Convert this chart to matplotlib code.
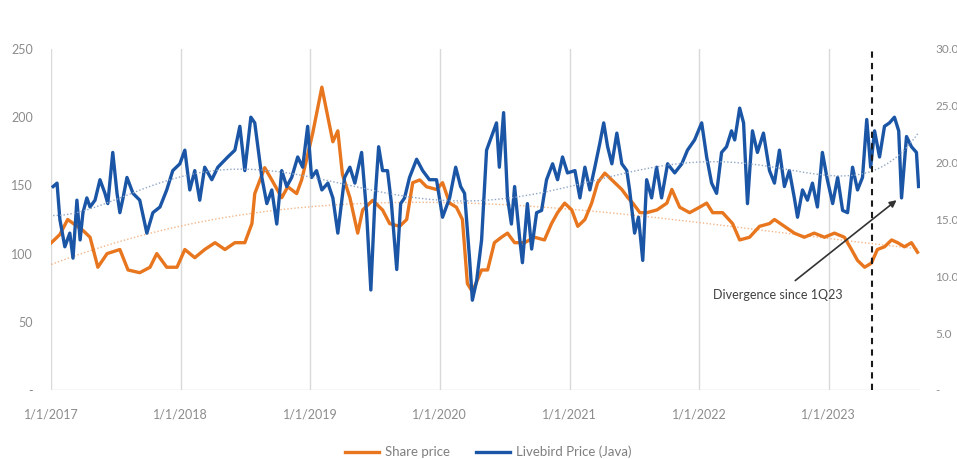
import matplotlib
matplotlib.use("Agg")
import matplotlib.pyplot as plt
import numpy as np
import pandas as pd

plt.rcParams["font.family"] = ["Lato", "DejaVu Sans"]

# Share price (left axis)
share_dates = [
    "2017-01-02", "2017-01-26", "2017-02-17", "2017-04-01", "2017-04-21", "2017-05-13",
    "2017-06-08", "2017-07-14", "2017-08-06", "2017-09-08", "2017-10-07", "2017-10-26",
    "2017-11-23", "2017-12-22", "2018-01-13", "2018-02-10", "2018-03-10", "2018-04-08",
    "2018-05-06", "2018-06-03", "2018-07-01", "2018-07-21", "2018-07-29", "2018-08-26",
    "2018-09-15", "2018-10-13", "2018-10-30", "2018-11-24", "2018-12-08", "2018-12-22",
    "2019-01-08", "2019-02-03", "2019-02-20", "2019-03-06", "2019-03-20", "2019-04-02",
    "2019-04-23", "2019-05-15", "2019-05-29", "2019-06-26", "2019-07-24", "2019-08-13",
    "2019-09-10", "2019-09-30", "2019-10-17", "2019-11-06", "2019-11-25", "2019-12-23",
    "2020-01-09", "2020-01-29", "2020-02-17", "2020-03-05", "2020-03-19", "2020-04-02",
    "2020-04-28", "2020-05-15", "2020-06-03", "2020-06-23", "2020-07-10", "2020-07-30",
    "2020-08-27", "2020-09-24", "2020-10-22", "2020-11-11", "2020-11-28", "2020-12-18",
    "2021-01-07", "2021-01-24", "2021-02-13", "2021-03-04", "2021-03-21", "2021-04-10",
    "2021-04-30", "2021-05-28", "2021-06-14", "2021-06-28", "2021-07-18", "2021-08-06",
    "2021-09-04", "2021-10-02", "2021-10-16", "2021-11-07", "2021-12-05", "2022-01-02",
    "2022-01-22", "2022-02-08", "2022-03-08", "2022-04-05", "2022-04-25", "2022-05-23",
    "2022-06-20", "2022-07-18", "2022-08-01", "2022-08-29", "2022-09-26", "2022-10-24",
    "2022-11-21", "2022-12-20", "2023-01-17", "2023-02-14", "2023-03-06", "2023-03-23",
    "2023-04-12", "2023-05-01", "2023-05-18", "2023-06-07", "2023-06-27", "2023-07-14",
    "2023-08-02", "2023-08-22", "2023-09-08",
]
share_price = [
    108, 114, 125, 117, 112, 90,
    100, 103, 88, 86, 90, 100,
    90, 90, 103, 97, 103, 108,
    103, 108, 108, 122, 144, 163,
    154, 141, 149, 144, 154, 169,
    188, 222, 200, 182, 190, 158,
    141, 115, 132, 139, 132, 122,
    120, 125, 152, 154, 149, 147,
    152, 137, 134, 125, 78, 72,
    88, 88, 108, 112, 115, 108,
    108, 112, 110, 122, 130, 137,
    132, 120, 125, 137, 152, 159,
    154, 147, 141, 137, 130, 130,
    132, 137, 147, 134, 130, 134,
    137, 130, 130, 122, 110, 112,
    120, 122, 125, 120, 115, 112,
    115, 112, 115, 112, 103, 95,
    90, 93, 103, 105, 110, 108,
    105, 108, 101,
]

# Livebird price in Java, IDR thousand per kg (right axis)
livebird_dates = [
    "2017-01-07", "2017-01-18", "2017-01-26", "2017-02-09", "2017-02-23", "2017-03-04",
    "2017-03-15", "2017-03-24", "2017-04-01", "2017-04-12", "2017-04-21", "2017-05-05",
    "2017-05-19", "2017-06-02", "2017-06-10", "2017-06-24", "2017-07-06", "2017-07-14",
    "2017-07-23", "2017-08-03", "2017-08-20", "2017-09-08", "2017-09-28", "2017-10-15",
    "2017-11-04", "2017-11-23", "2017-12-10", "2017-12-30", "2018-01-13", "2018-01-27",
    "2018-02-10", "2018-02-24", "2018-03-10", "2018-03-30", "2018-04-16", "2018-05-14",
    "2018-06-03", "2018-06-17", "2018-07-01", "2018-07-18", "2018-07-29", "2018-08-18",
    "2018-09-01", "2018-09-15", "2018-09-29", "2018-10-13", "2018-10-27", "2018-11-10",
    "2018-11-27", "2018-12-11", "2018-12-25", "2019-01-05", "2019-01-19", "2019-02-03",
    "2019-02-20", "2019-03-06", "2019-03-20", "2019-04-08", "2019-04-23", "2019-05-07",
    "2019-05-26", "2019-06-09", "2019-06-21", "2019-07-02", "2019-07-13", "2019-07-24",
    "2019-08-07", "2019-08-18", "2019-09-02", "2019-09-13", "2019-09-24", "2019-10-08",
    "2019-10-28", "2019-11-14", "2019-12-03", "2019-12-23", "2020-01-09", "2020-01-29",
    "2020-02-15", "2020-02-29", "2020-03-11", "2020-03-25", "2020-04-02", "2020-04-14",
    "2020-04-28", "2020-05-12", "2020-05-26", "2020-06-09", "2020-06-17", "2020-06-29",
    "2020-07-10", "2020-07-21", "2020-07-30", "2020-08-13", "2020-08-21", "2020-09-04",
    "2020-09-16", "2020-09-30", "2020-10-14", "2020-10-28", "2020-11-14", "2020-11-28",
    "2020-12-12", "2020-12-26", "2021-01-16", "2021-01-30", "2021-02-13", "2021-02-27",
    "2021-03-13", "2021-03-27", "2021-04-07", "2021-04-18", "2021-04-30", "2021-05-14",
    "2021-05-28", "2021-06-11", "2021-06-19", "2021-07-03", "2021-07-14", "2021-07-26",
    "2021-08-06", "2021-08-20", "2021-09-03", "2021-09-17", "2021-10-04", "2021-10-24",
    "2021-11-13", "2021-11-29", "2021-12-19", "2022-01-08", "2022-01-22", "2022-02-05",
    "2022-02-19", "2022-03-05", "2022-03-19", "2022-04-02", "2022-04-11", "2022-04-25",
    "2022-05-06", "2022-05-17", "2022-05-31", "2022-06-14", "2022-07-01", "2022-07-18",
    "2022-08-01", "2022-08-15", "2022-08-29", "2022-09-12", "2022-09-26", "2022-10-05",
    "2022-10-19", "2022-11-02", "2022-11-16", "2022-11-30", "2022-12-14", "2022-12-28",
    "2023-01-12", "2023-01-26", "2023-02-09", "2023-02-23", "2023-03-09", "2023-03-23",
    "2023-04-06", "2023-04-18", "2023-04-29", "2023-05-10", "2023-05-24", "2023-06-07",
    "2023-06-21", "2023-07-05", "2023-07-17", "2023-07-25", "2023-08-08", "2023-08-22",
    "2023-09-05", "2023-09-11",
]
livebird_price = [
    17.9, 18.2, 15.0, 12.6, 13.8, 11.6,
    16.7, 13.2, 15.6, 16.9, 16.1, 16.7,
    18.5, 17.3, 16.4, 20.9, 17.3, 15.6,
    16.9, 18.7, 17.3, 16.7, 13.8, 15.6,
    16.1, 17.6, 19.3, 19.9, 21.1, 17.6,
    19.3, 16.7, 19.6, 18.5, 19.6, 20.5,
    21.1, 23.2, 19.3, 24.0, 23.5, 18.7,
    16.4, 17.6, 14.6, 19.3, 17.9, 18.7,
    20.5, 19.6, 23.2, 18.7, 19.3, 17.6,
    18.2, 16.9, 13.8, 18.7, 19.6, 18.2,
    20.9, 15.6, 8.8, 16.4, 21.4, 19.3,
    19.3, 16.4, 10.6, 16.4, 16.9, 18.7,
    20.3, 19.3, 18.5, 18.5, 15.2, 16.9,
    19.6, 17.9, 17.3, 11.6, 7.9, 9.6,
    13.2, 21.1, 22.3, 23.5, 19.6, 24.4,
    16.9, 14.6, 17.9, 13.4, 11.2, 16.4,
    12.4, 15.6, 15.8, 18.5, 19.9, 18.5,
    20.5, 19.1, 19.3, 16.9, 19.6, 17.6,
    19.6, 21.7, 23.5, 21.4, 19.9, 22.6,
    19.9, 19.3, 17.6, 13.8, 15.2, 11.4,
    18.5, 16.9, 19.6, 16.9, 19.9, 19.1,
    19.9, 21.1, 22.0, 23.5, 20.5, 18.2,
    17.3, 20.9, 21.4, 22.8, 22.0, 24.8,
    23.5, 16.4, 22.8, 20.9, 22.6, 19.3,
    18.2, 21.1, 17.9, 19.3, 16.9, 15.2,
    17.6, 16.7, 18.2, 16.1, 20.9, 18.5,
    16.4, 18.7, 15.8, 15.6, 19.6, 17.6,
    18.7, 23.8, 19.6, 22.8, 20.5, 23.2,
    23.5, 24.0, 22.8, 16.9, 22.3, 21.4,
    20.9, 17.9,
]

year_ticks = ["2017-01-01", "2018-01-01", "2019-01-01", "2020-01-01",
              "2021-01-01", "2022-01-01", "2023-01-01"]
year_labels = ["1/1/2017", "1/1/2018", "1/1/2019", "1/1/2020",
               "1/1/2021", "1/1/2022", "1/1/2023"]
left_ticks = [0, 50, 100, 150, 200, 250]
left_labels = ["-", "50", "100", "150", "200", "250"]
right_ticks = [0, 5, 10, 15, 20, 25, 30]
right_labels = ["-", "5.0", "10.0", "15.0", "20.0", "25.0", "30.0"]
divergence_date = "2023-05-02"

ORANGE = "#E8761E"
BLUE = "#1B56A6"
TEXT = "#8C8C8C"

sd = pd.to_datetime(share_dates)
ld = pd.to_datetime(livebird_dates)
assert len(sd) == len(share_price) and len(ld) == len(livebird_price)


def poly_trend(dates, values, deg):
    t = (dates - pd.Timestamp("2017-01-01")).days.values / 365.25
    coef = np.polyfit(t, values, deg)
    tt = np.linspace(t.min(), t.max(), 300)
    return pd.Timestamp("2017-01-01") + pd.to_timedelta(tt * 365.25, unit="D"), np.polyval(coef, tt)


fig = plt.figure(figsize=(9.57, 4.59), dpi=100)
ax = fig.add_axes([51 / 957, 1 - 390 / 459, (920 - 51) / 957, (390 - 49) / 459])
ax2 = ax.twinx()

ax.set_xlim(pd.Timestamp("2017-01-01"), pd.Timestamp("2023-09-15"))
ax.set_ylim(0, 250)
ax2.set_ylim(0, 30)

# year gridlines and baseline
for d in year_ticks:
    ax.axvline(pd.Timestamp(d), color="#D9D9D9", lw=1.0, zorder=0)
ax.axhline(0, color="#D9D9D9", lw=1.0, zorder=0)

(h1,) = ax.plot(sd, share_price, color=ORANGE, lw=2.4, solid_joinstyle="round", zorder=3)
tx, ty = poly_trend(sd, np.array(share_price, float), 3)
ax.plot(tx, ty, color="#F2B68A", lw=1.0, ls=(0, (1, 1.5)), zorder=2)

(h2,) = ax2.plot(ld, livebird_price, color=BLUE, lw=2.4, solid_joinstyle="round", zorder=3)
bx, by = poly_trend(ld, np.array(livebird_price, float), 6)
ax2.plot(bx, by, color="#8FA6C6", lw=1.0, ls=(0, (1, 1.5)), zorder=4)

ax2.axvline(pd.Timestamp(divergence_date), color="#1A1A1A", lw=1.5, ls=(0, (3, 2.5)), zorder=5)

ax.set_xticks(pd.to_datetime(year_ticks))
ax.set_xticklabels(year_labels)
ax.set_yticks(left_ticks)
ax.set_yticklabels(left_labels)
ax2.set_yticks(right_ticks)
ax2.set_yticklabels(right_labels)

for a in (ax, ax2):
    for s in a.spines.values():
        s.set_visible(False)
    a.tick_params(length=0, labelsize=9, labelcolor=TEXT)
ax.tick_params(axis="x", pad=13)
ax.tick_params(axis="y", pad=13)
ax2.tick_params(axis="y", pad=11, labelsize=8.5)

ax2.annotate(
    "Divergence since 1Q23",
    xy=(pd.Timestamp("2023-07-11"), 16.7),
    xytext=(pd.Timestamp("2022-08-10"), 8.4),
    textcoords="data", ha="center", va="center",
    fontsize=9, color="#404040",
    arrowprops=dict(arrowstyle="-|>", color="#333333", lw=1.2, shrinkA=6, shrinkB=0,
                    mutation_scale=10),
    zorder=6,
)

fig.legend([h1, h2], ["Share price", "Livebird Price (Java)"], loc="center",
           bbox_to_anchor=(0.51, 0.015), ncol=2, frameon=False, fontsize=9.5,
           labelcolor="#7F7F7F", handlelength=2.6, columnspacing=2.0, handletextpad=0.4)

fig.savefig("out.png", dpi=100, facecolor="white")
